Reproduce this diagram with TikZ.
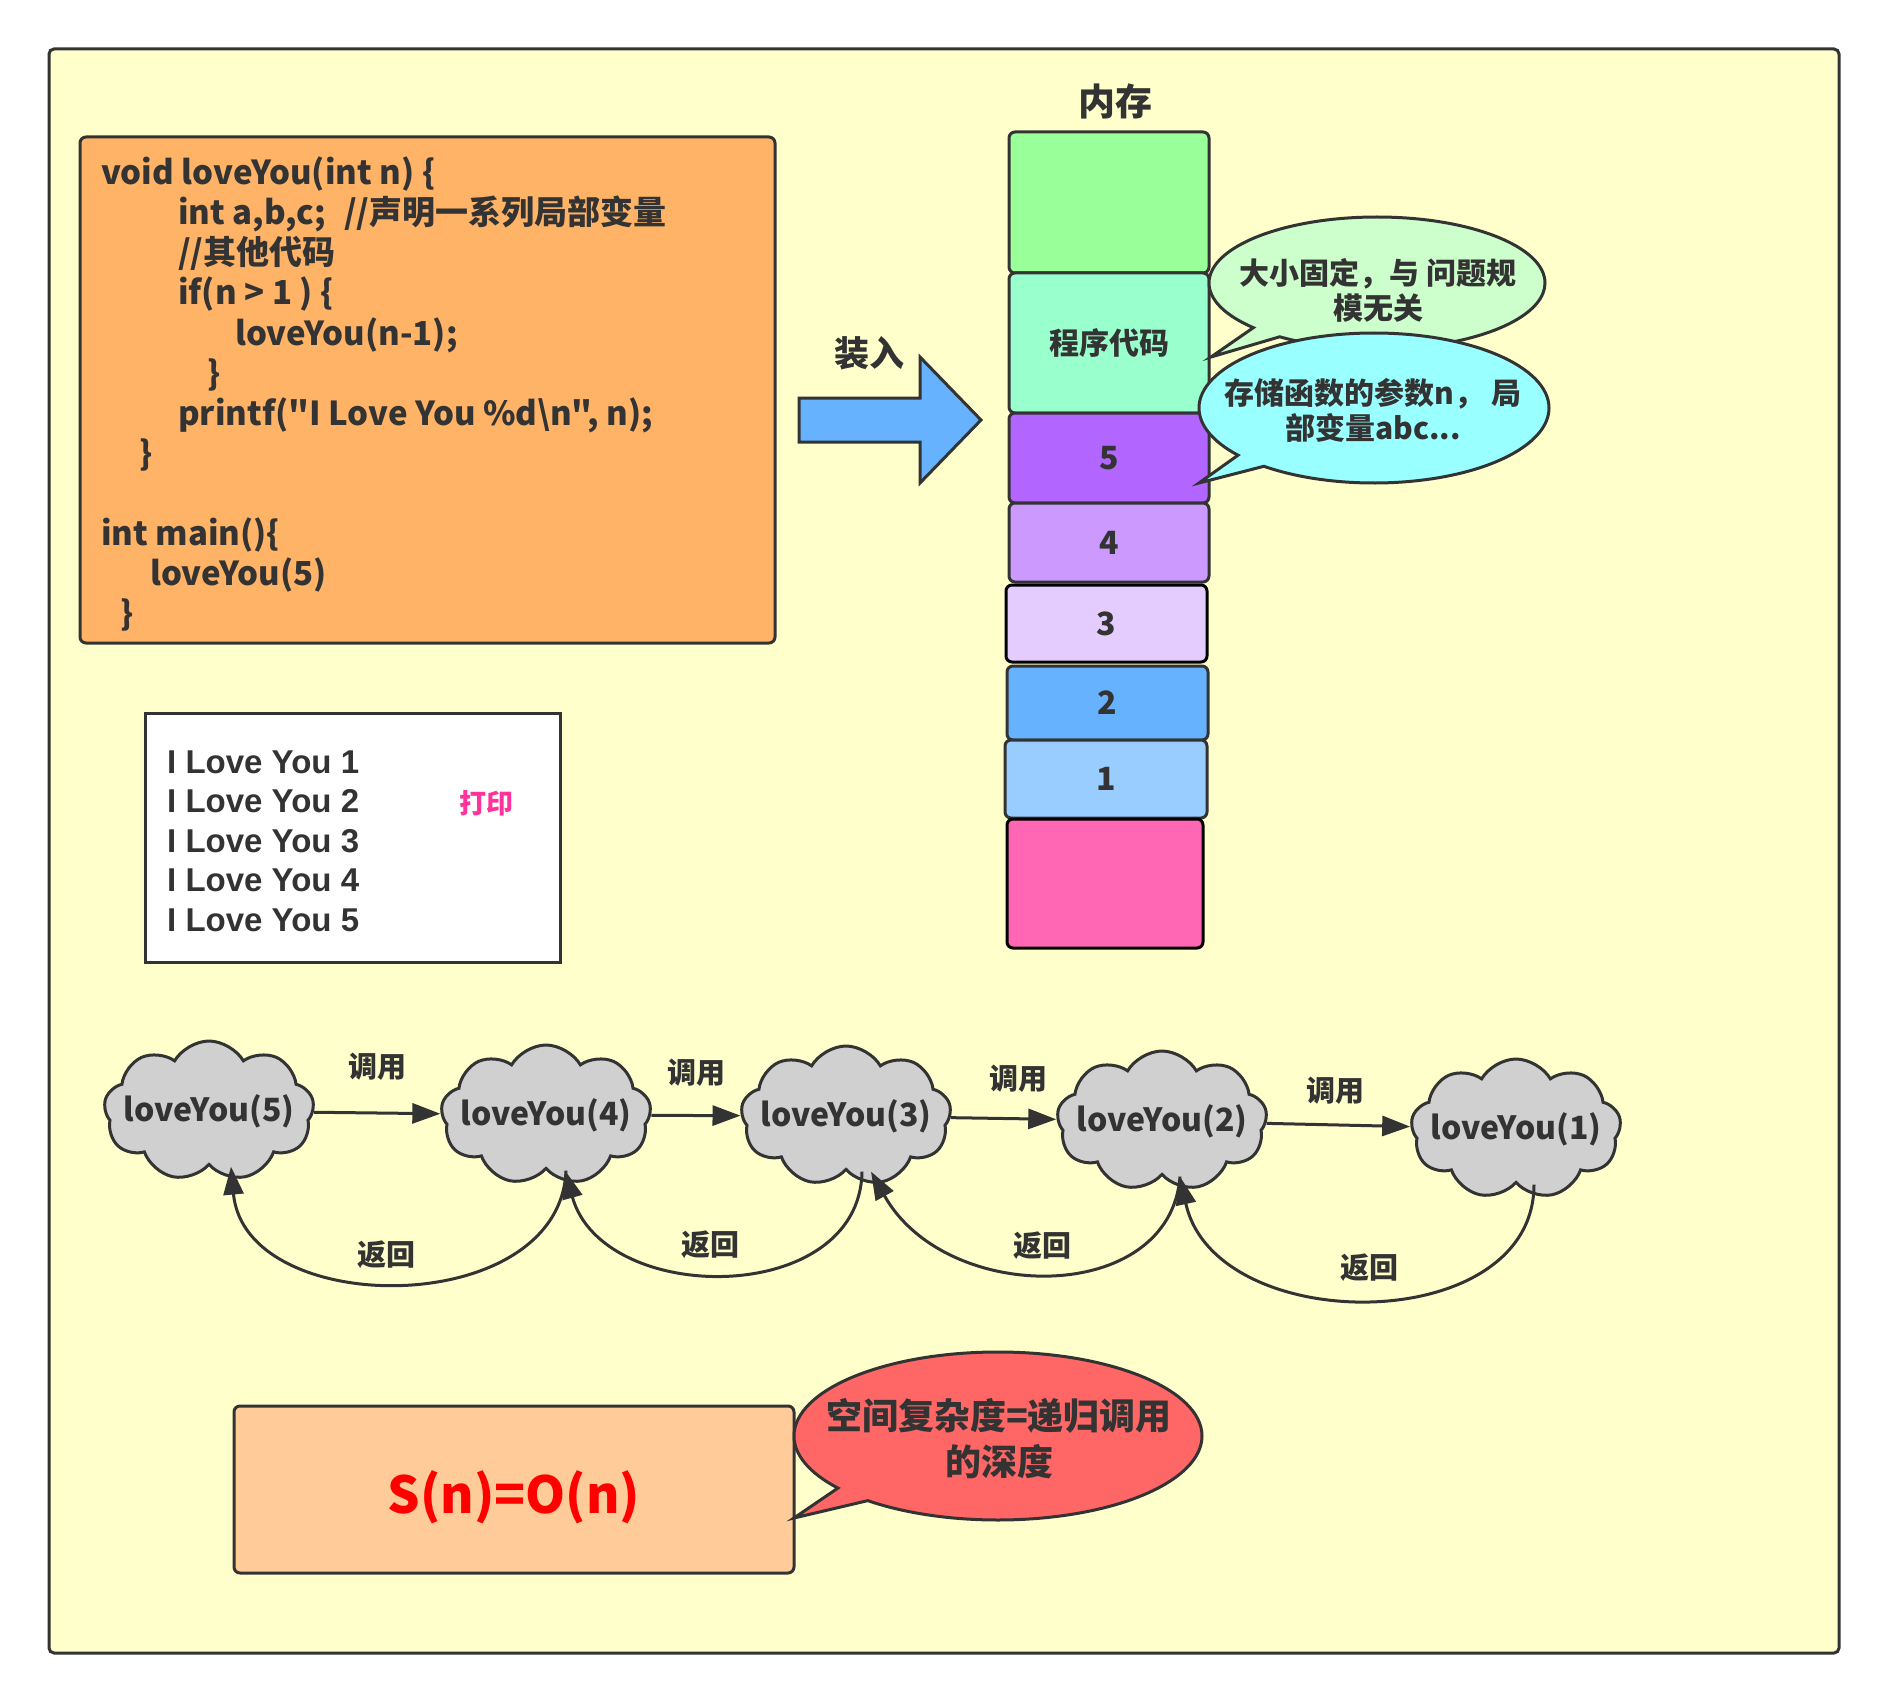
\documentclass[tikz,border=0pt]{standalone}
\usepackage{fontspec}
\setmainfont{Noto Sans CJK SC}
\newfontfamily\plaincjk{Noto Sans CJK SC}
\newfontfamily\latfont{Liberation Sans}
\usetikzlibrary{shapes.symbols,shapes.callouts,arrows.meta}
\definecolor{bg}{HTML}{FFFFCC}
\definecolor{ink}{HTML}{333333}
\definecolor{codefill}{HTML}{FFB366}
\definecolor{snfill}{HTML}{FFCC99}
\definecolor{mgreen}{HTML}{99FF99}
\definecolor{mprog}{HTML}{99FFCC}
\definecolor{mfive}{HTML}{B266FF}
\definecolor{mfour}{HTML}{CC99FF}
\definecolor{mthree}{HTML}{E5CCFF}
\definecolor{mtwo}{HTML}{66B2FF}
\definecolor{mone}{HTML}{99CCFF}
\definecolor{mpink}{HTML}{FF66B3}
\definecolor{cgreen}{HTML}{CCFFCC}
\definecolor{ccyan}{HTML}{99FFFF}
\definecolor{cred}{HTML}{FF6666}
\definecolor{cloudgray}{HTML}{D0D0D0}
\definecolor{printpink}{HTML}{FF3399}
\newcommand\fsz[2]{\fontsize{#1}{#2}\selectfont}
\newcommand\zw[1]{\makebox[0pt][c]{#1}}
\tikzset{
  every node/.style={text=ink, font=\bfseries},
  blk/.style={draw=ink, line width=3pt, rounded corners=6pt, minimum width=200pt, inner sep=0pt, font=\bfseries\fsz{32}{36}},
  codeline/.style={anchor=base west, inner sep=0pt, font=\plaincjk\bfseries\fsz{33}{40}},
  loveline/.style={anchor=base west, inner sep=0pt, font=\latfont\bfseries\fsz{33}{40}},
  cloudnode/.style={cloud, cloud puffs=9, cloud puff arc=120, cloud ignores aspect, draw=ink, line width=3pt, fill=cloudgray, minimum width=210pt, minimum height=140pt, inner sep=0pt, font=\bfseries\fsz{32}{36}},
  lbl/.style={inner sep=0pt, font=\bfseries\fsz{29}{34}},
  arr/.style={draw=ink, line width=3pt, -{Triangle[length=28pt,width=20pt]}},
  callbub/.style={ellipse callout, draw=ink, line width=3pt, inner sep=0pt, callout pointer arc=12},
  bubtext/.style={align=center, inner sep=0pt, font=\bfseries\fsz{30}{35}}
}
\begin{document}
\begin{tikzpicture}[x=1pt,y=-1pt]
\useasboundingbox (0,0) rectangle (1888,1704);
\fill[white] (0,0) rectangle (1888,1704);
% frame
\draw[ink, line width=3pt, fill=bg, rounded corners=5pt] (49,49) rectangle (1839,1653);

% code box
\node[draw=ink, line width=3pt, fill=codefill, rounded corners=6pt, minimum width=695pt, minimum height=506pt, inner sep=0pt] (code) at (427.5,390) {};
\node[codeline] (l1) at (101,185) {void loveYou(int n) \{};
\node[codeline] (l2) at (178,225) {int a,b,c;\hspace*{18pt}//声明一系列局部变量};
\node[codeline] (l3) at (178,265) {//其他代码};
\node[codeline] (l4) at (178,305) {if(n > 1 ) \{};
\node[codeline] (l5) at (235,345) {loveYou(n-1);};
\node[codeline] (l6) at (207,385) {\}};
\node[codeline] (l7) at (178,425) {printf("I Love You \%d\textbackslash n", n);};
\node[codeline] (l8) at (139,465) {\}};
\node[codeline] (l10) at (101,545) {int main()\{};
\node[codeline] (l11) at (150,585) {loveYou(5)};
\node[codeline] (l12) at (120,625) {\}};

% load arrow
\draw[ink, line width=3pt, fill=mtwo, line join=miter] (799,398) -- (920,398) -- (920,357) -- (981,420) -- (920,483) -- (920,442) -- (799,442) -- cycle;
\node[inner sep=0pt, font=\bfseries\fsz{35}{40}] (load) at (869,353) {装入};

% memory
\node[inner sep=0pt, font=\bfseries\fsz{37}{40}] (memt) at (1115,101) {内存};
\node[blk, fill=mgreen, minimum height=141pt] (mg) at (1109,202.5) {};
\node[blk, fill=mprog, minimum height=140pt, font=\bfseries\fsz{30}{34}] (mp) at (1109,343) {程序代码};
\node[blk, fill=mfive, minimum height=90pt] (m5) at (1109,458) {5};
\node[blk, fill=mfour, minimum height=79pt] (m4) at (1109,542.5) {4};
\node[blk, draw=black, fill=mthree, minimum width=201pt, minimum height=77pt] (m3) at (1106.5,623.5) {3};
\node[blk, fill=mtwo, minimum width=201pt, minimum height=74pt] (m2) at (1107.5,703) {2};
\node[blk, fill=mone, minimum width=202pt, minimum height=78pt] (m1) at (1106,779) {1};
\node[blk, draw=black, fill=mpink, minimum width=196pt, minimum height=129pt] (mpk) at (1105,883.5) {};

% callouts
\node[callbub, fill=cgreen, minimum width=336pt, minimum height=132pt, callout absolute pointer={(1211,357)}] (bub1) at (1377,283) {};
\node[bubtext] (bub1t) at (1378,290) {大小固定，与 问题规\\模无关};
\node[callbub, fill=ccyan, minimum width=350pt, minimum height=150pt, callout absolute pointer={(1199,483)}] (bub2) at (1374,408) {};
\node[bubtext] (bub2t) at (1373,410) {存储函数的参数n， 局\\部变量abc...};

% print box
\node[draw=ink, line width=3pt, fill=white, minimum width=415pt, minimum height=249pt, inner sep=0pt] (pbox) at (353,837.5) {};
\node[loveline] (p1) at (167,773) {I Love You 1};
\node[loveline] (p2) at (167,812.5) {I Love You 2};
\node[loveline] (p3) at (167,852) {I Love You 3};
\node[loveline] (p4) at (167,891.5) {I Love You 4};
\node[loveline] (p5) at (167,931) {I Love You 5};
\node[inner sep=0pt, text=printpink, font=\bfseries\fsz{27}{30}] (ptxt) at (486,803) {打印};

% clouds
\node[cloudnode] (c5) at (209,1111) {\zw{loveYou(5)}};
\node[cloudnode] (c4) at (546,1115) {\zw{loveYou(4)}};
\node[cloudnode] (c3) at (846,1116) {\zw{loveYou(3)}};
\node[cloudnode] (c2) at (1162,1121) {\zw{loveYou(2)}};
\node[cloudnode] (c1) at (1516,1129) {\zw{loveYou(1)}};

\draw[arr] (c5) -- (c4);
\draw[arr] (c4) -- (c3);
\draw[arr] (c3) -- (c2);
\draw[arr] (c2) -- (c1);
\node[lbl] (k1) at (377,1067) {调用};
\node[lbl] (k2) at (696,1073) {调用};
\node[lbl] (k3) at (1018,1079) {调用};
\node[lbl] (k4) at (1335,1091) {调用};

\draw[arr] ([xshift=20pt]c4.south) .. controls (560,1320) and (245,1320) .. ([xshift=22pt]c5.south);
\draw[arr] ([xshift=16pt]c3.south) .. controls (860,1307) and (603,1307) .. ([xshift=19pt]c4.south);
\draw[arr] ([xshift=18pt]c2.south) .. controls (1170,1306) and (946,1306) .. ([xshift=25pt]c3.south);
\draw[arr] ([xshift=18pt]c1.south) .. controls (1534,1338) and (1215,1338) .. ([xshift=18pt]c2.south);
\node[lbl] (r1) at (386,1255) {返回};
\node[lbl] (r2) at (710,1245) {返回};
\node[lbl] (r3) at (1042,1246) {返回};
\node[lbl] (r4) at (1369,1268) {返回};

% complexity
\node[draw=ink, line width=3pt, fill=snfill, rounded corners=6pt, minimum width=560pt, minimum height=167pt, inner sep=0pt] (sn) at (514,1489.5) {};
\node[anchor=base, inner sep=0pt, text=red, font=\bfseries\fsz{51}{60}] (snt) at (514,1513) {S(n)=O(n)};
\node[callbub, fill=cred, minimum width=408pt, minimum height=168pt, callout absolute pointer={(794,1518)}] (bub3) at (998,1436) {};
\node[align=center, inner sep=0pt, font=\bfseries\fsz{36}{46}] (bub3t) at (999,1439) {空间复杂度=递归调用\\的深度};
\end{tikzpicture}
\end{document}
